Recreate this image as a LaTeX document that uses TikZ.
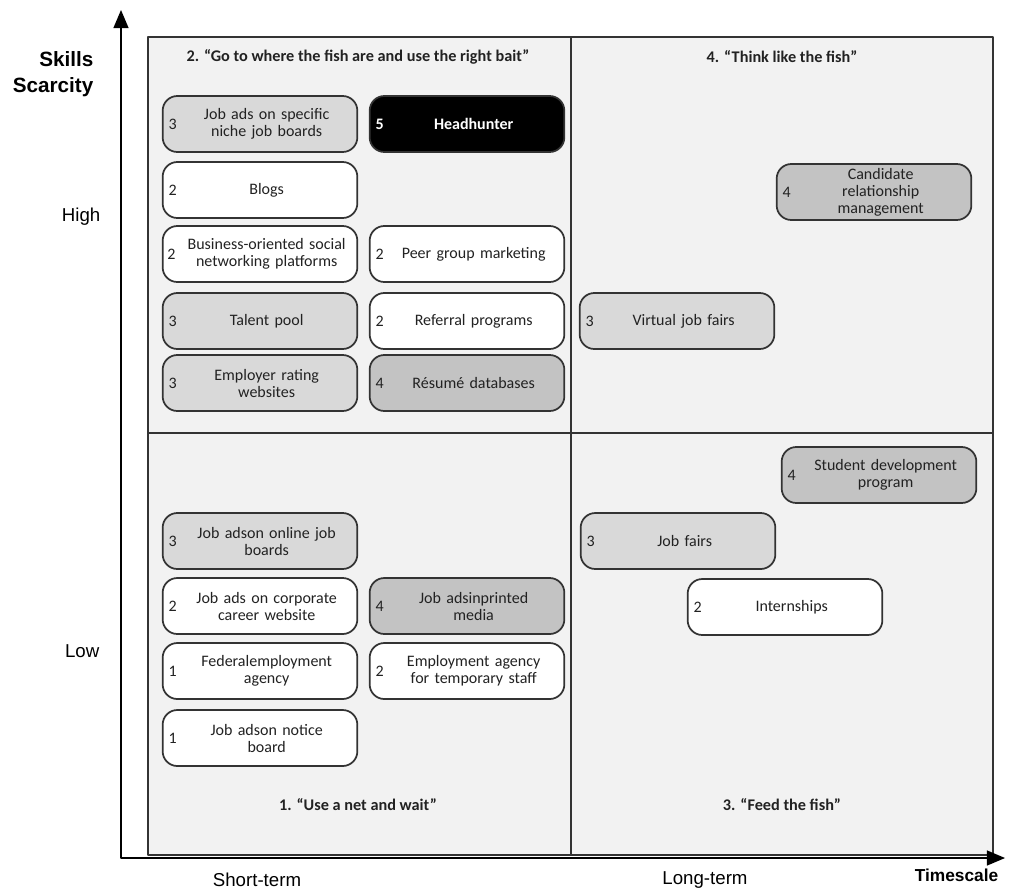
\documentclass[tikz,border=0pt]{standalone}
\usepackage{fontspec}
\setmainfont{Carlito}
\newfontfamily\axisfont{Liberation Sans}
\usetikzlibrary{arrows}
\usetikzlibrary{positioning}
\definecolor{panel}{HTML}{F2F2F2}
\definecolor{edge}{HTML}{333333}
\definecolor{lightfill}{HTML}{D9D9D9}
\definecolor{midfill}{HTML}{C3C3C3}
\definecolor{ink}{HTML}{222222}

\begin{document}
\begin{tikzpicture}[line cap=round,line join=round,>=triangle 45,x=0.75pt,y=-0.75pt,
  chan/.style={draw=edge,line width=1.3pt,rounded corners=11pt,minimum width=146pt,
    minimum height=42pt,text width=140pt,align=center,inner sep=0pt,text=ink,
    execute at begin node={\advance\leftskip by 10pt},
    font=\fontsize{12}{12.75}\selectfont},
  lvl/.style={inner sep=0pt,text=ink,font=\fontsize{12}{12.75}\selectfont},
  quad/.style={text=ink,font=\bfseries\fontsize{12.2}{14}\selectfont},
  axlab/.style={font=\axisfont\fontsize{14}{16}\selectfont},
  axname/.style={font=\axisfont\bfseries\fontsize{15.5}{20}\selectfont,align=right}]
\useasboundingbox (0,0) rectangle (1009,893);
% quadrants
\draw[edge,line width=1.2pt,fill=panel] (148,37) rectangle (993,855);
\draw[edge,line width=1.2pt] (571,37) -- (571,855);
\draw[edge,line width=1.2pt] (148,433) -- (993,433);
\node[quad] (q2) at (358,57) {2. “Go to where the fish are and use the right bait”};
\node[quad] (q4) at (782,57) {4. “Think like the fish”};
\node[quad] (q1) at (358,805) {1. “Use a net and wait”};
\node[quad] (q3) at (782,805) {3. “Feed the fish”};
% axes
\coordinate (o) at (121,858);
\coordinate (ytip) at (121,10);
\coordinate (xtip) at (1005,858);
\draw[<->,line width=2.2pt] (ytip) -- (o) -- (xtip);
\node[axname,anchor=east] (skills) at (98,74) {Skills\\Scarcity};
\node[axlab,anchor=east] (high) at (105,217) {High};
\node[axlab,anchor=east] (low) at (104,651) {Low};
\node[axlab] (short) at (257,880) {Short-term};
\node[axlab] (long) at (705,880) {Long-term};
\node[axname,anchor=east,font=\axisfont\bfseries\fontsize{13}{16}\selectfont] (time) at (1003,875) {Timescale};
% quadrant 2
\node[chan,fill=lightfill] (niche) at (260,124) {Job ads on specific\\niche job boards};
\node[lvl,right=5pt of niche.west] (nniche) {3};
\node[chan,fill=black,text=white,font=\bfseries\fontsize{12}{12.75}\selectfont] (head) at (467,124) {Headhunter};
\node[lvl,right=5pt of head.west,text=white,font=\bfseries\fontsize{12}{12.75}\selectfont] (nhead) {5};
\node[chan,fill=white] (blogs) at (260,190) {Blogs};
\node[lvl,right=5pt of blogs.west] (nblogs) {2};
\node[chan,fill=white] (social) at (260,254) {Business-oriented social\\networking platforms};
\node[lvl,right=4pt of social.west] (nsocial) {2};
\node[chan,fill=white] (peer) at (467,254) {Peer group marketing};
\node[lvl,right=5pt of peer.west] (npeer) {2};
\node[chan,fill=lightfill] (talent) at (260,321) {Talent pool};
\node[lvl,right=5pt of talent.west] (ntalent) {3};
\node[chan,fill=white] (referral) at (467,321) {Referral programs};
\node[lvl,right=5pt of referral.west] (nreferral) {2};
\node[chan,fill=lightfill] (rating) at (260,383) {Employer rating\\websites};
\node[lvl,right=5pt of rating.west] (nrating) {3};
\node[chan,fill=midfill] (resume) at (467,383) {Résumé databases};
\node[lvl,right=5pt of resume.west] (nresume) {4};
% quadrant 4
\node[chan,fill=midfill] (crm) at (874,192) {Candidate\\relationship\\management};
\node[lvl,right=5pt of crm.west] (ncrm) {4};
\node[chan,fill=lightfill] (virtual) at (677,321) {Virtual job fairs};
\node[lvl,right=5pt of virtual.west] (nvirtual) {3};
% quadrant 3
\node[chan,fill=midfill] (student) at (879,475) {Student development\\program};
\node[lvl,right=5pt of student.west] (nstudent) {4};
\node[chan,fill=lightfill] (fairs) at (678,541) {Job fairs};
\node[lvl,right=5pt of fairs.west] (nfairs) {3};
\node[chan,fill=white] (intern) at (785,607) {Internships};
\node[lvl,right=5pt of intern.west] (nintern) {2};
% quadrant 1
\node[chan,fill=lightfill] (online) at (260,541) {Job adson online job\\boards};
\node[lvl,right=5pt of online.west] (nonline) {3};
\node[chan,fill=white] (corporate) at (260,606) {Job ads on corporate\\career website};
\node[lvl,right=5pt of corporate.west] (ncorporate) {2};
\node[chan,fill=midfill] (printed) at (467,606) {Job adsinprinted\\media};
\node[lvl,right=5pt of printed.west] (nprinted) {4};
\node[chan,fill=white] (federal) at (260,671) {Federalemployment\\agency};
\node[lvl,right=5pt of federal.west] (nfederal) {1};
\node[chan,fill=white] (agency) at (467,671) {Employment agency\\for temporary staff};
\node[lvl,right=5pt of agency.west] (nagency) {2};
\node[chan,fill=white] (notice) at (260,738) {Job adson notice\\board};
\node[lvl,right=5pt of notice.west] (nnotice) {1};
\end{tikzpicture}
\end{document}
